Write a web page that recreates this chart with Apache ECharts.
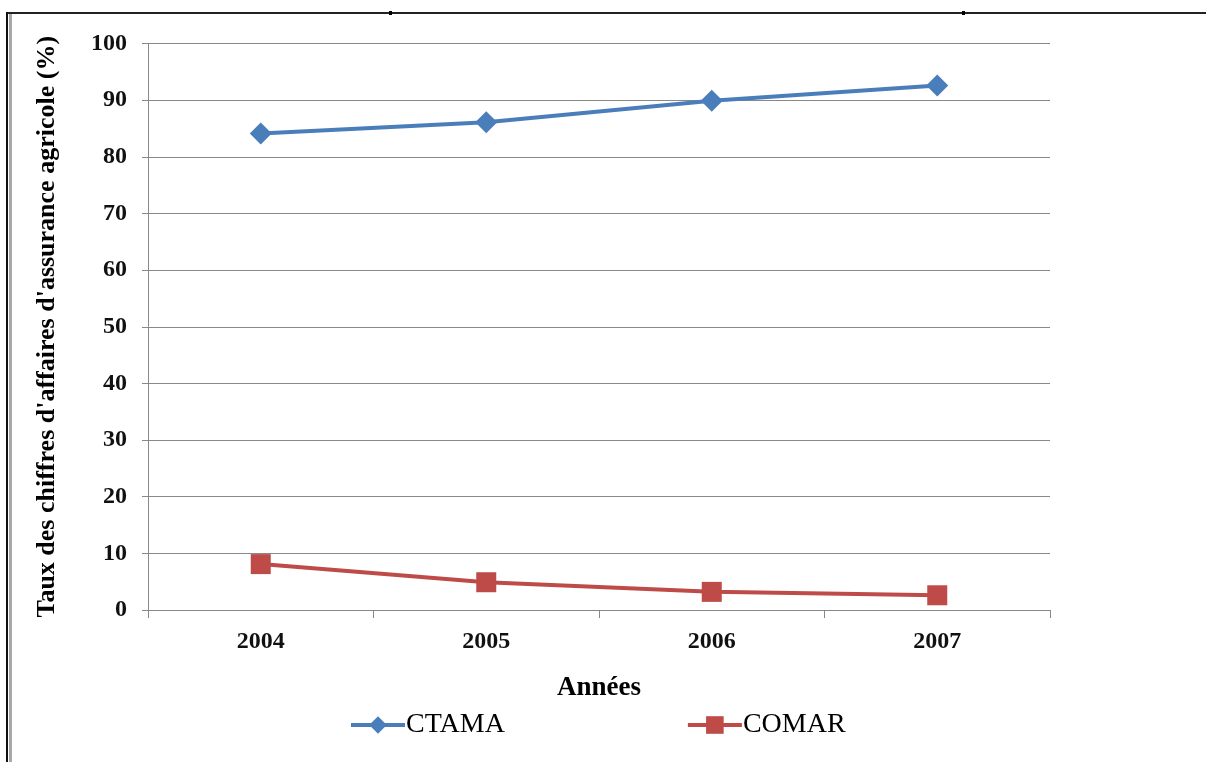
<!DOCTYPE html>
<html>
<head>
<meta charset="utf-8">
<script src="https://cdn.jsdelivr.net/npm/echarts@6/dist/echarts.min.js"></script>
<style>html,body{margin:0;padding:0;background:#fff;}#c{width:1206px;height:762px;}</style>
</head>
<body>
<div id="c"></div>
<script>
const years = ['2004', '2005', '2006', '2007'];
const ctama = [84.1, 86.1, 89.9, 92.6];
const comar = [8.1, 4.9, 3.2, 2.6];
const yTicks = { min: 0, max: 100, interval: 10 };
const xTitle = 'Années';
const yTitle = "Taux des chiffres d'affaires d'assurance agricole (%)";

const serif = '"Liberation Serif","Times New Roman",serif';
const chart = echarts.init(document.getElementById('c'), null, { renderer: 'canvas' });
chart.setOption({
  animation: false,
  backgroundColor: '#fff',
  grid: { left: 148, right: 156, top: 43.5, bottom: 152, containLabel: false },
  legend: {
    top: 706, left: 344, itemGap: 181, itemWidth: 54, itemHeight: 22,
    lineStyle: { width: 4 },
    textStyle: { fontFamily: serif, fontSize: 28, color: '#000', padding: [0, 0, 0, -4] },
    data: ['CTAMA', 'COMAR']
  },
  xAxis: {
    type: 'category', data: years, boundaryGap: true,
    name: xTitle, nameLocation: 'middle', nameGap: 65,
    nameTextStyle: { fontFamily: serif, fontSize: 27, fontWeight: 'bold', color: '#000' },
    axisLine: { lineStyle: { color: '#888', width: 1 } },
    axisTick: { show: true, length: 8, lineStyle: { color: '#888' } },
    axisLabel: { fontFamily: serif, fontSize: 24, fontWeight: 'bold', color: '#111', margin: 20 }
  },
  yAxis: {
    type: 'value', min: yTicks.min, max: yTicks.max, interval: yTicks.interval,
    name: yTitle, nameLocation: 'middle', nameRotate: 90, nameGap: 88,
    nameTextStyle: { fontFamily: serif, fontSize: 26, fontWeight: 'bold', color: '#000' },
    axisLine: { show: true, lineStyle: { color: '#888', width: 1 } },
    axisTick: { show: true, length: 6, lineStyle: { color: '#888' } },
    axisLabel: { fontFamily: serif, fontSize: 24, fontWeight: 'bold', color: '#111', margin: 21 },
    splitLine: { lineStyle: { color: '#888', width: 1 } }
  },
  series: [
    { name: 'CTAMA', type: 'line', data: ctama, symbol: 'diamond', symbolSize: 22,
      lineStyle: { color: '#4a7ebb', width: 4 }, itemStyle: { color: '#4a7ebb' } },
    { name: 'COMAR', type: 'line', data: comar, symbol: 'rect', symbolSize: 20,
      lineStyle: { color: '#be4b48', width: 4 }, itemStyle: { color: '#be4b48' } }
  ],
  graphic: [
    { type: 'line', shape: { x1: 6, y1: 13, x2: 1206, y2: 13 }, style: { stroke: '#222', lineWidth: 2 } },
    { type: 'line', shape: { x1: 7, y1: 12, x2: 7, y2: 762 }, style: { stroke: '#111', lineWidth: 2 } },
    { type: 'line', shape: { x1: 10.5, y1: 14, x2: 10.5, y2: 762 }, style: { stroke: '#a8a8a8', lineWidth: 3 } },
    { type: 'rect', shape: { x: 389, y: 11, width: 3, height: 4 }, style: { fill: '#000' } },
    { type: 'rect', shape: { x: 962, y: 11, width: 3, height: 4 }, style: { fill: '#000' } }
  ]
});
</script>
</body>
</html>
